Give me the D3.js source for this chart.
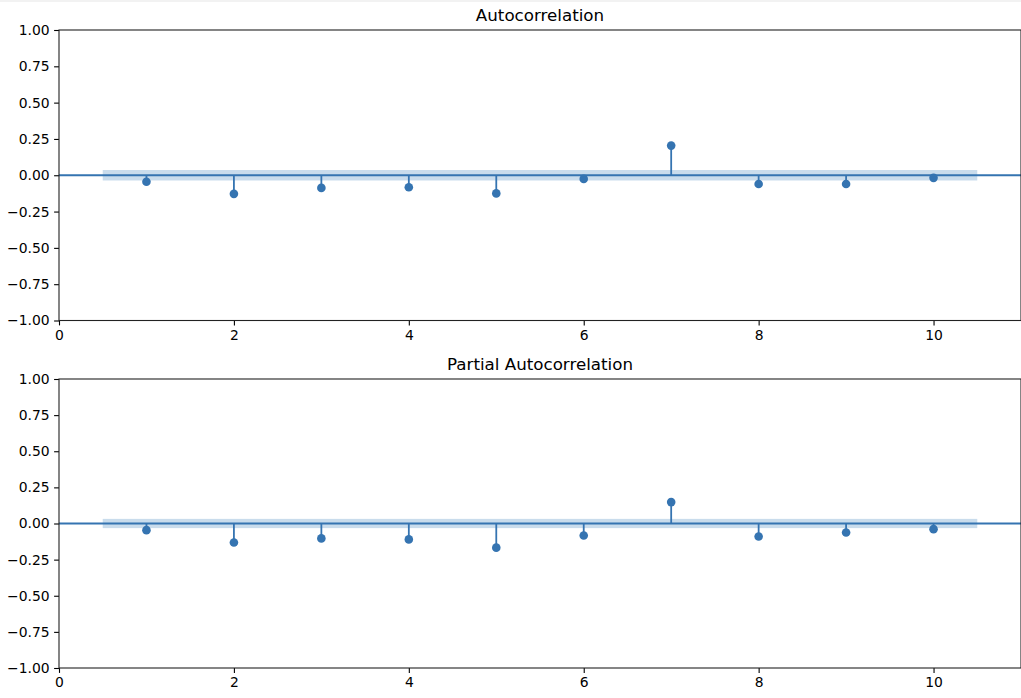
<!DOCTYPE html>
<html>
<head>
<meta charset="utf-8">
<script src="https://cdn.jsdelivr.net/npm/d3@7"></script>
<style>
  html, body { margin: 0; padding: 0; background: #fff; }
  svg { display: block; }
  text { font-family: "DejaVu Sans", sans-serif; fill: #000; }
</style>
</head>
<body>
<svg id="chart" width="1021" height="698"></svg>
<script>
// ---- data ----
const lags = [1, 2, 3, 4, 5, 6, 7, 8, 9, 10];
const acfValues  = [-0.045, -0.128, -0.087, -0.083, -0.125, -0.025, 0.204, -0.060, -0.060, -0.018];
const pacfValues = [-0.046, -0.131, -0.103, -0.110, -0.167, -0.083, 0.148, -0.090, -0.062, -0.039];
const acfConf  = 0.036;
const pacfConf = 0.032;
const confRange = [0.5, 10.5];
const xTicks = [0, 2, 4, 6, 8, 10];
const yTicks = [-1, -0.75, -0.5, -0.25, 0, 0.25, 0.5, 0.75, 1];
const titles = ["Autocorrelation", "Partial Autocorrelation"];

const svg = d3.select("#chart");
const color = "#3574b1";
const bandColor = "#c9dcec";
const fmt = d => d3.format(".2f")(d).replace("-", "\u2212");

svg.append("rect").attr("x", 0).attr("y", 0).attr("width", 1021).attr("height", 2).attr("fill", "#f2f2f2");

const panels = [
  { title: titles[0], values: acfValues, conf: acfConf, top: 30, bottom: 320.5 },
  { title: titles[1], values: pacfValues, conf: pacfConf, top: 379, bottom: 668 }
];

const left = 59, right = 1021;

panels.forEach(p => {
  const x = d3.scaleLinear().domain([0, 11]).range([left, right]);
  const y = d3.scaleLinear().domain([-1, 1]).range([p.bottom, p.top]);
  const g = svg.append("g");

  // confidence band
  g.append("rect")
    .attr("x", x(confRange[0]))
    .attr("width", x(confRange[1]) - x(confRange[0]))
    .attr("y", y(p.conf))
    .attr("height", y(-p.conf) - y(p.conf))
    .attr("fill", bandColor);

  // zero line
  g.append("line")
    .attr("x1", x(0)).attr("x2", x(11))
    .attr("y1", y(0)).attr("y2", y(0))
    .attr("stroke", color).attr("stroke-width", 1.8);

  // stems
  g.selectAll(".stem").data(lags).enter().append("line")
    .attr("x1", d => x(d)).attr("x2", d => x(d))
    .attr("y1", y(0)).attr("y2", (d, i) => y(p.values[i]))
    .attr("stroke", color).attr("stroke-width", 1.8);

  // markers
  g.selectAll(".pt").data(lags).enter().append("circle")
    .attr("cx", d => x(d))
    .attr("cy", (d, i) => y(p.values[i]))
    .attr("r", 4.3)
    .attr("fill", color);

  // axes
  const yAxis = d3.axisLeft(y).tickValues(yTicks).tickFormat(fmt).tickSize(4.9).tickPadding(4.5);
  const xAxis = d3.axisBottom(x).tickValues(xTicks).tickFormat(d3.format("d")).tickSize(4.9).tickPadding(4.5);

  const ya = g.append("g").attr("transform", `translate(${left},0)`).call(yAxis);
  const xa = g.append("g").attr("transform", `translate(0,${p.bottom})`).call(xAxis);
  [ya, xa].forEach(a => {
    a.select(".domain").remove();
    a.selectAll(".tick line").attr("stroke", "#000").attr("stroke-width", 1.1);
    a.selectAll(".tick text").attr("font-size", "13.9px").attr("font-family", "DejaVu Sans").attr("fill", "#1a1a1a");
  });

  // spines
  g.append("rect")
    .attr("x", left).attr("y", p.top)
    .attr("width", right - left).attr("height", p.bottom - p.top)
    .attr("fill", "none").attr("stroke", "#222").attr("stroke-width", 1.1);

  // title
  g.append("text")
    .attr("x", (left + right) / 2)
    .attr("y", p.top - 9)
    .attr("text-anchor", "middle")
    .attr("font-size", "16.7px")
    .attr("fill", "#1a1a1a")
    .text(p.title);
});
</script>
</body>
</html>
